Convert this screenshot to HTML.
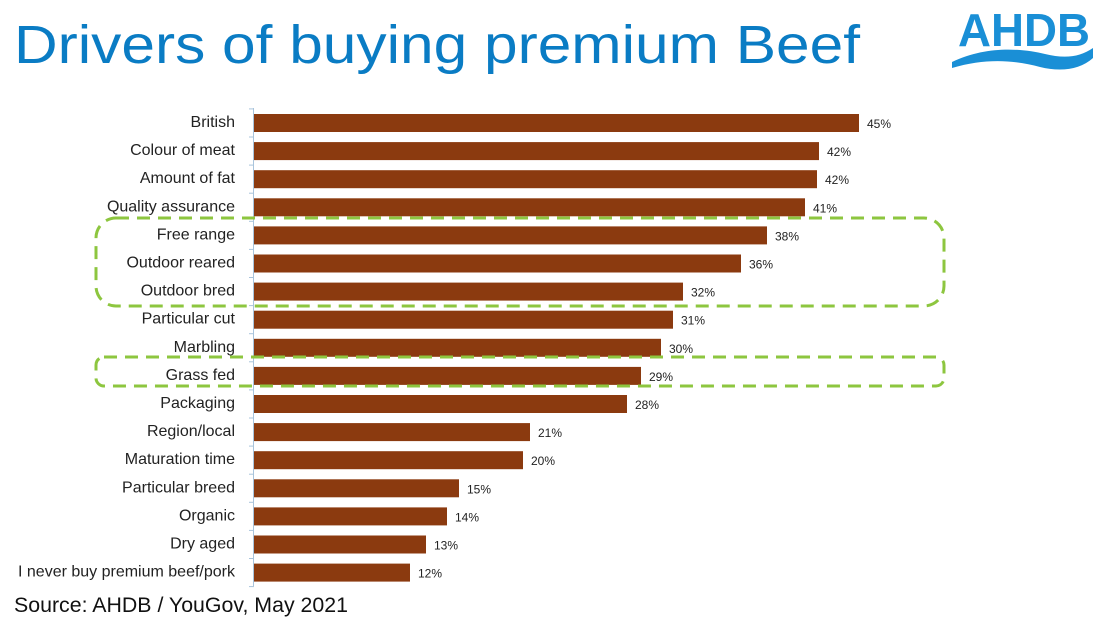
<!DOCTYPE html>
<html><head><meta charset="utf-8"><style>
html,body{margin:0;padding:0;background:#fff;}
svg{display:block;font-family:"Liberation Sans",Arial,sans-serif;}
</style></head><body>
<svg width="1100" height="622" viewBox="0 0 1100 622" xmlns="http://www.w3.org/2000/svg">
<text x="14" y="63" font-size="54" fill="#0a7cc4" textLength="846" lengthAdjust="spacingAndGlyphs">Drivers of buying premium Beef</text>
<text x="14" y="612" font-size="21" fill="#111" textLength="334" lengthAdjust="spacingAndGlyphs">Source: AHDB / YouGov, May 2021</text>
<text x="958" y="46" font-size="46" font-weight="bold" fill="#1a8fd6" textLength="132" lengthAdjust="spacingAndGlyphs">AHDB</text>
<path d="M952 62 C985 46,1020 48,1045 54 C1065 59,1080 57,1093 48 L1093 58 C1080 70,1060 72,1040 67 C1015 60,985 58,952 68 Z" fill="#1a8fd6"/>
<g stroke="#a9c4dc" stroke-width="1">
<line x1="253.5" y1="108" x2="253.5" y2="586"/>
<line x1="249" y1="108.9" x2="254" y2="108.9"/><line x1="249" y1="137" x2="254" y2="137"/><line x1="249" y1="165.1" x2="254" y2="165.1"/><line x1="249" y1="193.2" x2="254" y2="193.2"/><line x1="249" y1="221.3" x2="254" y2="221.3"/><line x1="249" y1="249.4" x2="254" y2="249.4"/><line x1="249" y1="277.5" x2="254" y2="277.5"/><line x1="249" y1="305.6" x2="254" y2="305.6"/><line x1="249" y1="333.7" x2="254" y2="333.7"/><line x1="249" y1="361.8" x2="254" y2="361.8"/><line x1="249" y1="389.9" x2="254" y2="389.9"/><line x1="249" y1="418" x2="254" y2="418"/><line x1="249" y1="446.1" x2="254" y2="446.1"/><line x1="249" y1="474.2" x2="254" y2="474.2"/><line x1="249" y1="502.3" x2="254" y2="502.3"/><line x1="249" y1="530.4" x2="254" y2="530.4"/><line x1="249" y1="558.5" x2="254" y2="558.5"/><line x1="249" y1="586.6" x2="254" y2="586.6"/>
</g>
<g fill="#8b3a0f">
<rect x="254" y="114" width="605" height="18"/>
<rect x="254" y="142.1" width="565" height="18"/>
<rect x="254" y="170.2" width="563" height="18"/>
<rect x="254" y="198.3" width="551" height="18"/>
<rect x="254" y="226.4" width="513" height="18"/>
<rect x="254" y="254.5" width="487" height="18"/>
<rect x="254" y="282.6" width="429" height="18"/>
<rect x="254" y="310.7" width="419" height="18"/>
<rect x="254" y="338.8" width="407" height="18"/>
<rect x="254" y="366.9" width="387" height="18"/>
<rect x="254" y="395" width="373" height="18"/>
<rect x="254" y="423.1" width="276" height="18"/>
<rect x="254" y="451.2" width="269" height="18"/>
<rect x="254" y="479.3" width="205" height="18"/>
<rect x="254" y="507.4" width="193" height="18"/>
<rect x="254" y="535.5" width="172" height="18"/>
<rect x="254" y="563.6" width="156" height="18"/>
</g>
<g font-size="16" text-anchor="end" fill="#222">
<text x="235" y="127">British</text>
<text x="235" y="155.1">Colour of meat</text>
<text x="235" y="183.2">Amount of fat</text>
<text x="235" y="211.3">Quality assurance</text>
<text x="235" y="239.4">Free range</text>
<text x="235" y="267.5">Outdoor reared</text>
<text x="235" y="295.6">Outdoor bred</text>
<text x="235" y="323.7">Particular cut</text>
<text x="235" y="351.8">Marbling</text>
<text x="235" y="379.9">Grass fed</text>
<text x="235" y="408">Packaging</text>
<text x="235" y="436.1">Region/local</text>
<text x="235" y="464.2">Maturation time</text>
<text x="235" y="492.3">Particular breed</text>
<text x="235" y="520.4">Organic</text>
<text x="235" y="548.5">Dry aged</text>
<text x="235" y="576.6">I never buy premium beef/pork</text>
</g>
<g font-size="12" fill="#222">
<text x="867" y="128">45%</text>
<text x="827" y="156.1">42%</text>
<text x="825" y="184.2">42%</text>
<text x="813" y="212.3">41%</text>
<text x="775" y="240.4">38%</text>
<text x="749" y="268.5">36%</text>
<text x="691" y="296.6">32%</text>
<text x="681" y="324.7">31%</text>
<text x="669" y="352.8">30%</text>
<text x="649" y="380.9">29%</text>
<text x="635" y="409">28%</text>
<text x="538" y="437.1">21%</text>
<text x="531" y="465.2">20%</text>
<text x="467" y="493.3">15%</text>
<text x="455" y="521.4">14%</text>
<text x="434" y="549.5">13%</text>
<text x="418" y="577.6">12%</text>
</g>
<rect x="96" y="218" width="848" height="88" rx="20" fill="none" stroke="#8dc63f" stroke-width="3" stroke-dasharray="13 8"/>
<rect x="96" y="357" width="848" height="29" rx="8" fill="none" stroke="#8dc63f" stroke-width="3" stroke-dasharray="13 8"/>
</svg>
</body></html>
